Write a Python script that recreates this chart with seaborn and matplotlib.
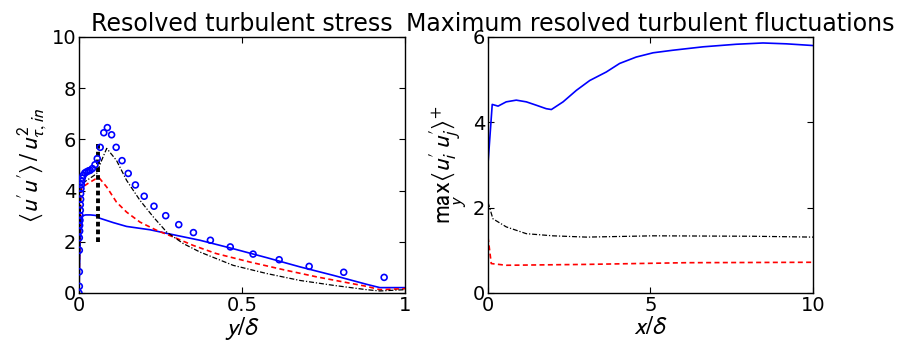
import numpy as np
import pandas as pd
import matplotlib
matplotlib.use("Agg")
import matplotlib.pyplot as plt
import seaborn as sns

# ---------------- data (left panel) ----------------
ref_y = [0.0, 0.001, 0.001, 0.001, 0.001, 0.002, 0.002, 0.003, 0.003, 0.004, 0.004, 0.005,
         0.005, 0.006, 0.007, 0.008, 0.010, 0.013, 0.018, 0.023, 0.029, 0.034, 0.041, 0.049,
         0.056, 0.065, 0.076, 0.087, 0.100, 0.114, 0.132, 0.151, 0.173, 0.200, 0.230, 0.266,
         0.306, 0.351, 0.403, 0.464, 0.534, 0.614, 0.706, 0.812, 0.936]
ref_uu = [0.0, 0.26, 0.83, 1.67, 2.16, 2.42, 2.64, 2.84, 3.03, 3.23, 3.45, 3.66,
          3.88, 4.08, 4.23, 4.36, 4.49, 4.60, 4.69, 4.73, 4.77, 4.79, 4.86, 5.01,
          5.25, 5.69, 6.26, 6.46, 6.18, 5.69, 5.17, 4.67, 4.22, 3.78, 3.39, 3.02,
          2.67, 2.36, 2.06, 1.80, 1.52, 1.30, 1.04, 0.81, 0.61]

blue_y = [0.0, 0.003, 0.008, 0.02, 0.035, 0.051, 0.064, 0.105, 0.146, 0.218, 0.269, 0.371,
          0.473, 0.576, 0.678, 0.780, 0.882, 0.923, 1.0]
blue_v = [0.0, 1.8, 3.0, 3.05, 3.05, 3.03, 2.92, 2.75, 2.6, 2.47, 2.33, 2.06,
          1.73, 1.38, 1.02, 0.69, 0.34, 0.21, 0.21]

red_y = [0.0, 0.002, 0.006, 0.012, 0.03, 0.05, 0.063, 0.085, 0.115, 0.146, 0.187, 0.238,
         0.289, 0.35, 0.421, 0.524, 0.627, 0.729, 0.882, 0.923, 1.0]
red_v = [0.0, 2.0, 4.0, 4.15, 4.3, 4.45, 4.48, 4.14, 3.55, 3.16, 2.77, 2.45,
         2.19, 1.86, 1.54, 1.21, 0.91, 0.63, 0.26, 0.13, 0.17]

blk_y = [0.0, 0.002, 0.006, 0.012, 0.03, 0.054, 0.07, 0.085, 0.115, 0.146, 0.187, 0.228,
         0.269, 0.32, 0.371, 0.473, 0.576, 0.678, 0.780, 0.882, 0.923, 1.0]
blk_v = [0.0, 2.0, 4.1, 4.3, 4.45, 4.66, 5.2, 5.65, 5.18, 4.4, 3.62, 2.97,
         2.38, 1.93, 1.6, 1.08, 0.76, 0.49, 0.30, 0.13, 0.08, 0.13]

marker_y = [0.059, 0.059]
marker_v = [2.0, 5.9]

# ---------------- data (right panel) ----------------
rb_x = [0.0, 0.13, 0.31, 0.56, 0.87, 1.18, 1.49, 1.79, 1.95, 2.31, 2.72, 3.13, 3.64,
        4.05, 4.56, 5.08, 5.69, 6.62, 7.64, 8.46, 9.18, 10.0]
rb_v = [3.03, 4.42, 4.38, 4.48, 4.52, 4.48, 4.40, 4.32, 4.30, 4.48, 4.75, 4.98, 5.18,
        5.38, 5.53, 5.63, 5.69, 5.77, 5.83, 5.86, 5.84, 5.80]

rk_x = [0.0, 0.15, 0.56, 1.18, 2.0, 3.03, 5.08, 8.15, 10.0]
rk_v = [2.13, 1.74, 1.55, 1.39, 1.34, 1.31, 1.34, 1.33, 1.31]

rr_x = [0.0, 0.1, 0.56, 3.0, 6.08, 10.0]
rr_v = [1.31, 0.69, 0.65, 0.67, 0.71, 0.72]

# ---------------- style ----------------
sns.set_style("ticks")
plt.rcParams["font.family"] = ["DejaVu Sans"]
plt.rcParams["mathtext.fontset"] = "stixsans"
plt.rcParams["xtick.direction"] = "in"
plt.rcParams["ytick.direction"] = "in"
plt.rcParams["text.color"] = "black"
plt.rcParams["axes.labelcolor"] = "black"
plt.rcParams["xtick.color"] = "black"
plt.rcParams["ytick.color"] = "black"

W, H = 904, 353
fig = plt.figure(figsize=(W / 100, H / 100), dpi=100)
ax1 = fig.add_axes([79 / W, 1 - 293 / H, 326 / W, 256 / H])
ax2 = fig.add_axes([488 / W, 1 - 293 / H, 325 / W, 256 / H])

dash = (0, (3, 2))
dashdot = (0, (4, 1.5, 1, 1.5))

# left panel
sns.lineplot(x=blue_y, y=blue_v, ax=ax1, color="blue", lw=1.2, sort=False, estimator=None)
l = sns.lineplot(x=red_y, y=red_v, ax=ax1, color="red", lw=1.2, sort=False, estimator=None).lines[-1]
l.set_linestyle(dash)
l = sns.lineplot(x=blk_y, y=blk_v, ax=ax1, color="black", lw=0.9, sort=False, estimator=None).lines[-1]
l.set_linestyle(dashdot)
sns.scatterplot(x=ref_y, y=ref_uu, ax=ax1, marker="o", s=18, facecolors="none",
                edgecolor="blue", linewidth=1.2, zorder=5)
l = sns.lineplot(x=marker_y, y=marker_v, ax=ax1, color="black", lw=2.8, sort=False,
                 estimator=None).lines[-1]
l.set_linestyle((0, (1.2, 0.8)))

ax1.set_xlim(0, 1)
ax1.set_ylim(0, 10)
ax1.set_xticks([0, 0.5, 1])
ax1.set_xticklabels(["0", "0.5", "1"])
ax1.set_yticks([0, 2, 4, 6, 8, 10])
ax1.set_xlabel(r"$y/\delta$", fontsize=18, labelpad=0)
ax1.set_ylabel(r"$\langle u^{\prime}u^{\prime}\rangle\,/\,u^2_{\tau,in}$", fontsize=18, labelpad=2)
ax1.set_title("Resolved turbulent stress", fontsize=17, pad=4)

# right panel
sns.lineplot(x=rb_x, y=rb_v, ax=ax2, color="blue", lw=1.2, sort=False, estimator=None)
l = sns.lineplot(x=rr_x, y=rr_v, ax=ax2, color="red", lw=1.2, sort=False, estimator=None).lines[-1]
l.set_linestyle(dash)
l = sns.lineplot(x=rk_x, y=rk_v, ax=ax2, color="black", lw=0.9, sort=False, estimator=None).lines[-1]
l.set_linestyle(dashdot)
ax2.set_xlim(0, 10)
ax2.set_ylim(0, 6)
ax2.set_xticks([0, 5, 10])
ax2.set_yticks([0, 2, 4, 6])
ax2.set_xlabel(r"$x/\delta$", fontsize=18, labelpad=0)
ax2.set_ylabel(r"$\max_{y}\langle u_i^{\prime}u_j^{\prime}\rangle^{+}$", fontsize=18, labelpad=2)
ax2.set_title("Maximum resolved turbulent fluctuations", fontsize=17, pad=4)

for ax in (ax1, ax2):
    ax.tick_params(labelsize=14, top=True, right=True, length=4, width=0.8, pad=2)
    for s in ax.spines.values():
        s.set_linewidth(1.0)
        s.set_color("black")

fig.savefig("out.png", dpi=100)
